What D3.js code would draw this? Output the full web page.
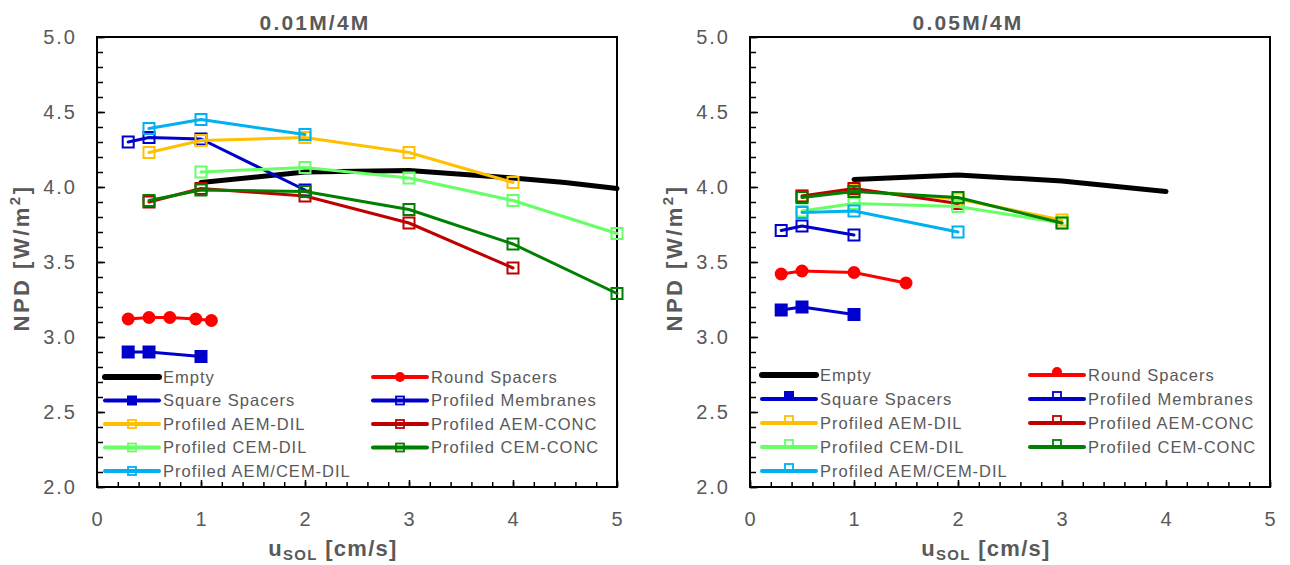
<!DOCTYPE html>
<html>
<head>
<meta charset="utf-8">
<script src="https://cdn.jsdelivr.net/npm/d3@7"></script>
<style>
body { margin: 0; background: #fff; }
text { font-family: "Liberation Sans", Arial, sans-serif; fill: #595959; }
</style>
</head>
<body>
<div id="vis"></div>
<script>
// setting up the basics
const FRAME_WIDTH = 1290;
const FRAME_HEIGHT = 565;

// ticks
const X_TICKS = [0, 1, 2, 3, 4, 5];
const Y_TICKS = [2.0, 2.5, 3.0, 3.5, 4.0, 4.5, 5.0];
const TITLES = ['0.01M/4M', '0.05M/4M'];

const SERIES_NAMES = ['Empty', 'Round Spacers', 'Square Spacers', 'Profiled Membranes',
    'Profiled AEM-DIL', 'Profiled AEM-CONC', 'Profiled CEM-DIL', 'Profiled CEM-CONC',
    'Profiled AEM/CEM-DIL'];

// 0.01M/4M values, [u, NPD]
const L_EMPTY = [[1, 4.03], [2, 4.10], [3, 4.11], [4, 4.06], [4.5, 4.03], [5, 3.99]];
const L_ROUND = [[0.3, 3.12], [0.5, 3.13], [0.7, 3.13], [0.95, 3.12], [1.1, 3.11]];
const L_SQUARE = [[0.3, 2.90], [0.5, 2.90], [1, 2.87]];
const L_PROF = [[0.3, 4.30], [0.5, 4.33], [1, 4.32], [2, 3.98]];
const L_AEM_DIL = [[0.5, 4.23], [1, 4.31], [2, 4.33], [3, 4.23], [4, 4.03]];
const L_AEM_CONC = [[0.5, 3.90], [1, 3.99], [2, 3.94], [3, 3.76], [4, 3.46]];
const L_CEM_DIL = [[1, 4.10], [2, 4.13], [3, 4.06], [4, 3.91], [5, 3.69]];
const L_CEM_CONC = [[0.5, 3.91], [1, 3.98], [2, 3.97], [3, 3.85], [4, 3.62], [5, 3.29]];
const L_AEMCEM_DIL = [[0.5, 4.39], [1, 4.45], [2, 4.35]];

// 0.05M/4M values, [u, NPD]
const R_EMPTY = [[1, 4.05], [2, 4.08], [3, 4.04], [4, 3.97]];
const R_ROUND = [[0.3, 3.42], [0.5, 3.44], [1, 3.43], [1.5, 3.36]];
const R_SQUARE = [[0.3, 3.18], [0.5, 3.20], [1, 3.15]];
const R_PROF = [[0.3, 3.71], [0.5, 3.74], [1, 3.68]];
const R_AEM_DIL = [[0.5, 3.94], [1, 3.98], [2, 3.92], [3, 3.78]];
const R_AEM_CONC = [[0.5, 3.94], [1, 3.99], [2, 3.89]];
const R_CEM_DIL = [[0.5, 3.84], [1, 3.89], [2, 3.87], [3, 3.76]];
const R_CEM_CONC = [[0.5, 3.93], [1, 3.97], [2, 3.93], [3, 3.76]];
const R_AEMCEM_DIL = [[0.5, 3.83], [1, 3.84], [2, 3.70]];

const LEFT_DATA = [L_EMPTY, L_ROUND, L_SQUARE, L_PROF, L_AEM_DIL, L_AEM_CONC, L_CEM_DIL, L_CEM_CONC, L_AEMCEM_DIL];
const RIGHT_DATA = [R_EMPTY, R_ROUND, R_SQUARE, R_PROF, R_AEM_DIL, R_AEM_CONC, R_CEM_DIL, R_CEM_CONC, R_AEMCEM_DIL];

// line colours and markers per series
const STYLES = {
    'Empty': {color: '#000000', width: 5, marker: 'none'},
    'Round Spacers': {color: '#FF0000', width: 3, marker: 'circle'},
    'Square Spacers': {color: '#0000CC', width: 3, marker: 'filled'},
    'Profiled Membranes': {color: '#0000CC', width: 3, marker: 'open'},
    'Profiled AEM-DIL': {color: '#FFC000', width: 3, marker: 'open'},
    'Profiled AEM-CONC': {color: '#C00000', width: 3, marker: 'open'},
    'Profiled CEM-DIL': {color: '#66FF66', width: 3, marker: 'open'},
    'Profiled CEM-CONC': {color: '#008000', width: 3, marker: 'open'},
    'Profiled AEM/CEM-DIL': {color: '#00B0F0', width: 3, marker: 'open'}
};

const PANELS = [
    {title: TITLES[0], data: LEFT_DATA, left: 97,
     legend: {cols: [105, 373], top: 377, step: 23.5, lift: 0}},
    {title: TITLES[1], data: RIGHT_DATA, left: 750,
     legend: {cols: [762, 1030], top: 375, step: 24, lift: 3}}
];

const VIS_WIDTH = 520;
const TOP = 37;
const BOTTOM = 487;

const FRAME = d3.select('#vis')
    .append('svg')
        .attr('width', FRAME_WIDTH)
        .attr('height', FRAME_HEIGHT);

// draws one marker into a group
function add_marker(g, style, x, y, big) {
    if (style.marker === 'circle') {
        g.append('circle')
            .attr('cx', x).attr('cy', y)
            .attr('r', big ? 6.5 : 5)
            .attr('fill', style.color);
    } else if (style.marker === 'filled') {
        const s = big ? 13 : 10;
        g.append('rect')
            .attr('x', x - s / 2).attr('y', y - s / 2)
            .attr('width', s).attr('height', s)
            .attr('fill', style.color);
    } else if (style.marker === 'open') {
        const s = big ? 11 : 8;
        g.append('rect')
            .attr('x', x - s / 2).attr('y', y - s / 2)
            .attr('width', s).attr('height', s)
            .attr('fill', 'none')
            .attr('stroke', style.color)
            .attr('stroke-width', big ? 2 : 1.8);
    }
}

function draw_panel(panel) {
    const X_SCALE = d3.scaleLinear()
        .domain([0, 5])
        .range([panel.left, panel.left + VIS_WIDTH]);

    const Y_SCALE = d3.scaleLinear()
        .domain([2, 5])
        .range([BOTTOM, TOP]);

    // minor ticks
    FRAME.append('g')
        .attr('transform', 'translate(0,' + BOTTOM + ')')
        .call(d3.axisBottom(X_SCALE).tickValues(d3.range(0, 5.01, 0.2)).tickSizeInner(-5).tickSizeOuter(0).tickFormat(''))
        .call(g => g.select('.domain').remove())
        .selectAll('line').attr('stroke', '#000').attr('stroke-width', 1.5);

    FRAME.append('g')
        .attr('transform', 'translate(' + panel.left + ',0)')
        .call(d3.axisLeft(Y_SCALE).tickValues(d3.range(2, 5.001, 0.1)).tickSizeInner(-6).tickSizeOuter(0).tickFormat(''))
        .call(g => g.select('.domain').remove())
        .selectAll('line').attr('stroke', '#000').attr('stroke-width', 1.5);

    // add x axis
    const xg = FRAME.append('g')
        .attr('transform', 'translate(0,' + BOTTOM + ')')
        .call(d3.axisBottom(X_SCALE).tickValues(X_TICKS).tickSizeInner(-7).tickSizeOuter(0).tickPadding(25).tickFormat(d3.format('d')));
    xg.select('.domain').remove();
    xg.selectAll('line').attr('stroke', '#000').attr('stroke-width', 1.5);
    xg.selectAll('text').attr('font-size', '20px').attr('font-family', null).style('letter-spacing', '1px');

    // add y axis
    const yg = FRAME.append('g')
        .attr('transform', 'translate(' + panel.left + ',0)')
        .call(d3.axisLeft(Y_SCALE).tickValues(Y_TICKS).tickSizeInner(-8).tickSizeOuter(0).tickPadding(20).tickFormat(d3.format('.1f')));
    yg.select('.domain').remove();
    yg.selectAll('line').attr('stroke', '#000').attr('stroke-width', 1.5);
    yg.selectAll('text').attr('font-size', '20px').attr('font-family', null).style('letter-spacing', '2px');

    // plot frame
    FRAME.append('rect')
        .attr('x', panel.left).attr('y', TOP)
        .attr('width', VIS_WIDTH).attr('height', BOTTOM - TOP)
        .attr('fill', 'none')
        .attr('stroke', '#000')
        .attr('stroke-width', 2);

    // lines and markers
    const LINE = d3.line()
        .x(d => X_SCALE(d[0]))
        .y(d => Y_SCALE(d[1]));

    panel.data.forEach((series, i) => {
        const style = STYLES[SERIES_NAMES[i]];
        const g = FRAME.append('g');
        g.append('path')
            .datum(series)
            .attr('d', LINE)
            .attr('fill', 'none')
            .attr('stroke', style.color)
            .attr('stroke-width', style.width)
            .attr('stroke-linecap', 'round')
            .attr('stroke-linejoin', 'round');
        series.forEach(d => add_marker(g, style, X_SCALE(d[0]), Y_SCALE(d[1]), true));
    });

    // legend, two columns
    const lg = panel.legend;
    SERIES_NAMES.forEach((name, i) => {
        const style = STYLES[name];
        const x = lg.cols[i % 2];
        const y = lg.top + Math.floor(i / 2) * lg.step;
        const g = FRAME.append('g');
        g.append('line')
            .attr('x1', x).attr('x2', x + 54)
            .attr('y1', y).attr('y2', y)
            .attr('stroke', style.color)
            .attr('stroke-width', style.width === 5 ? 6 : 4)
            .attr('stroke-linecap', 'round');
        add_marker(g, style, x + 27, y - lg.lift, false);
        g.append('text')
            .attr('x', x + 58).attr('y', y)
            .attr('dy', '0.35em')
            .attr('font-size', '16.5px')
            .style('letter-spacing', '1px')
            .text(name);
    });

    // title
    FRAME.append('text')
        .attr('x', panel.left + 218).attr('y', 30)
        .attr('text-anchor', 'middle')
        .attr('font-size', '21px')
        .attr('font-weight', 'bold')
        .style('letter-spacing', '2.2px')
        .text(panel.title);

    // y title
    const yt = FRAME.append('text')
        .attr('transform', 'translate(' + (panel.left - 76) + ',258) rotate(-90)')
        .attr('text-anchor', 'middle')
        .attr('dy', '0.35em')
        .attr('font-size', '22px')
        .attr('font-weight', 'bold')
        .style('letter-spacing', '2.5px');
    yt.append('tspan').text('NPD [W/m');
    yt.append('tspan').attr('dy', -9).attr('font-size', '15px').text('2');
    yt.append('tspan').attr('dy', 9).text(']');

    // x title
    const xt = FRAME.append('text')
        .attr('x', panel.left + 236).attr('y', 556)
        .attr('text-anchor', 'middle')
        .attr('font-size', '22px')
        .attr('font-weight', 'bold')
        .style('letter-spacing', '1.3px');
    xt.append('tspan').text('u');
    xt.append('tspan').attr('dy', 4).attr('font-size', '15px').text('SOL');
    xt.append('tspan').attr('dy', -4).text(' [cm/s]');
}

PANELS.forEach(draw_panel);
</script>
</body>
</html>
